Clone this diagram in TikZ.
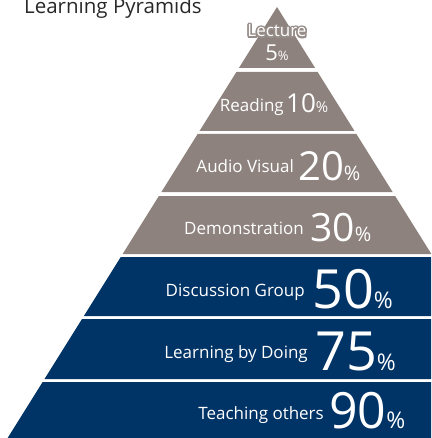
\documentclass[tikz,border=0pt]{standalone}
\usepackage{fontspec}
\setmainfont[Numbers=Lining]{Open Sans}
\usepackage[copies]{contour}
\definecolor{pyrgray}{RGB}{141,130,125}
\definecolor{pyrhalo}{RGB}{150,140,136}
\definecolor{pyrrim}{RGB}{105,94,90}
\definecolor{pyrblue}{RGB}{0,51,102}
\definecolor{titlegray}{RGB}{40,40,40}
% one slice of the pyramid, between two heights
\def\band[#1](#2:#3){\fill[#1] ({277-0.625*(#2-7)},#2) -- ({277+0.625*(#2-7)},#2) -- ({277+0.625*(#3-7)},#3) -- ({277-0.625*(#3-7)},#3) -- cycle;}
\newcommand{\rate}[3]{{\fontsize{#1}{#1}\selectfont #3}{\fontsize{#2}{#2}\selectfont\%}}

\begin{document}
\begin{tikzpicture}[x=1pt, y=-1pt,
  lbl/.style={text=white, anchor=base east, inner sep=0pt, font=\fontsize{17}{17}\selectfont},
  pct/.style={text=white, anchor=base west, inner sep=0pt}]
			%%%%% START %%%%%
			\useasboundingbox (0, 0) rectangle (431, 438);
			\clip (0, 0) rectangle (431, 438);

			\band[pyrgray](7:68)
			\band[pyrgray](72:131)
			\band[pyrgray](134:192)
			\band[pyrgray](196:254)
			\band[pyrblue](257:316)
			\band[pyrblue](319:379)
			\band[pyrblue](382:445)

			\node[anchor=base west, inner sep=0pt, text=titlegray, font=\fontsize{20.5}{20.5}\selectfont] (title) at (24, 14) {Learning Pyramids};

			\node[lbl, anchor=base] (lecturerim) at (277, 37) {\contourlength{2.4pt}\contour{pyrrim}{\phantom{Lecture}}};
			\node[lbl, anchor=base] (lecture) at (277, 37) {\contourlength{1.5pt}\contour{pyrhalo}{Lecture}};
			\node[pct, anchor=base] (lecturepct) at (277, 61) {\rate{22}{13}{5}};

			\node[lbl] (reading) at (284, 112) {Reading};
			\node[pct] (readingpct) at (286, 113) {\rate{26}{15}{10}};

			\node[lbl] (audio) at (294, 173) {Audio Visual};
			\node[pct] (audiopct) at (298, 181) {\rate{40}{20}{20}};

			\node[lbl] (demo) at (304, 234) {Demonstration};
			\node[pct] (demopct) at (310, 241) {\rate{39}{20}{30}};

			\node[lbl] (discussion) at (305, 296) {Discussion Group};
			\node[pct] (discussionpct) at (312, 308) {\rate{54}{23}{50}};

			\node[lbl] (doing) at (308, 358) {Learning by Doing};
			\node[pct] (doingpct) at (315, 370) {\rate{54}{23}{75}};

			\node[lbl] (teaching) at (324, 419) {Teaching others};
			\node[pct] (teachingpct) at (329, 428) {\rate{50}{23}{90}};
			%%%%% END %%%%%
\end{tikzpicture}
\end{document}
